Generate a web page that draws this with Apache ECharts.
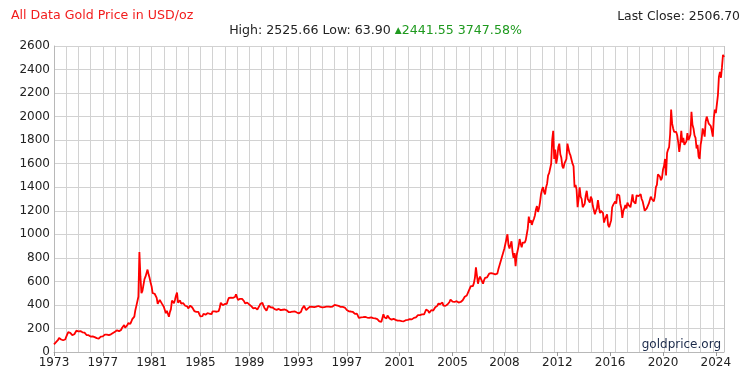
<!DOCTYPE html>
<html><head><meta charset="utf-8">
<script src="https://cdn.jsdelivr.net/npm/echarts@6/dist/echarts.min.js"></script>
<style>html,body{margin:0;padding:0;background:#fff}#c{width:753px;height:386px}</style>
</head><body><div id="c"></div>
<script>
// Gold price (USD/oz), one inner array per calendar year, samples in time order.
const startYear = 1973;
const prices1970s = [
  [65, 74, 84, 90, 102, 120, 122, 106, 103, 100, 94, 106],
  [129, 150, 168, 172, 163, 154, 143, 154, 151, 158, 181, 186],
  [176, 180, 178, 170, 167, 164, 165, 163, 144, 142, 143, 139],
  [131, 131, 133, 128, 126, 125, 118, 110, 114, 117, 131, 134],
  [132, 136, 148, 149, 147, 141, 143, 145, 150, 158, 162, 161],
  [173, 178, 184, 175, 177, 183, 188, 206, 212, 228, 206, 208],
  [227, 245, 242, 239, 257, 279, 295, 301, 355, 392, 392, 470]
];
const prices1980s = [
  [850, 640, 500, 520, 530, 620, 640, 630, 700, 660, 630, 590],
  [557, 500, 500, 495, 480, 460, 409, 410, 443, 437, 413, 410],
  [384, 374, 330, 350, 334, 300, 339, 364, 436, 422, 415, 444],
  [480, 505, 420, 432, 438, 412, 422, 416, 412, 393, 381, 388],
  [370, 386, 394, 381, 378, 378, 348, 348, 341, 340, 341, 320],
  [303, 299, 304, 325, 316, 317, 317, 330, 324, 325, 325, 322],
  [345, 339, 346, 340, 342, 343, 348, 376, 418, 423, 398, 391],
  [408, 401, 409, 439, 460, 450, 462, 453, 460, 466, 467, 490],
  [477, 442, 444, 452, 451, 451, 437, 431, 413, 406, 420, 419],
  [404, 388, 390, 384, 371, 367, 375, 365, 361, 367, 392, 409]
];
const prices1990s = [
  [410, 417, 393, 374, 369, 352, 362, 394, 389, 380, 381, 378],
  [384, 364, 363, 358, 357, 366, 368, 356, 349, 359, 361, 361],
  [354, 354, 345, 338, 337, 340, 353, 343, 345, 344, 335, 335],
  [329, 329, 330, 342, 367, 372, 392, 378, 355, 364, 373, 383],
  [386, 381, 384, 377, 381, 385, 385, 380, 391, 389, 384, 379],
  [379, 377, 382, 391, 385, 387, 386, 383, 383, 383, 386, 387],
  [400, 405, 396, 393, 392, 385, 383, 387, 383, 381, 378, 369],
  [357, 349, 346, 352, 344, 343, 340, 324, 324, 323, 325, 306, 289],
  [284, 295, 297, 296, 308, 299, 292, 293, 284, 289, 296, 294, 291],
  [288, 287, 286, 283, 280, 270, 261, 256, 257, 265, 320, 295, 290]
];
const prices2000s = [
  [285, 310, 295, 284, 280, 275, 286, 282, 276, 273, 270, 266, 272],
  [266, 262, 263, 258, 261, 272, 270, 268, 273, 286, 280, 275, 277],
  [282, 290, 298, 294, 303, 314, 322, 314, 310, 320, 316, 319, 340],
  [360, 368, 350, 332, 330, 355, 350, 352, 362, 380, 378, 392, 410],
  [415, 408, 402, 420, 394, 384, 392, 398, 404, 410, 425, 445, 440],
  [428, 420, 425, 435, 432, 428, 420, 428, 425, 430, 440, 456, 470, 468, 480, 500, 515],
  [540, 560, 555, 560, 585, 630, 720, 650, 580, 620, 640, 625, 600, 580, 610, 630, 625],
  [635, 650, 665, 655, 670, 685, 665, 650, 660, 670, 665, 700, 730, 760, 790, 820, 810],
  [880, 920, 960, 1000, 910, 880, 890, 940, 850, 800, 840, 730, 820],
  [860, 900, 960, 920, 890, 930, 945, 930, 950, 1000, 1050, 1150, 1100]
];
const prices2010s = [
  [1120, 1080, 1110, 1130, 1160, 1210, 1240, 1190, 1220, 1270, 1340, 1380, 1400],
  [1360, 1340, 1400, 1430, 1500, 1520, 1510, 1600, 1800, 1880, 1640, 1720, 1600],
  [1650, 1740, 1770, 1680, 1650, 1580, 1560, 1600, 1590, 1640, 1770, 1730, 1690],
  [1670, 1660, 1600, 1580, 1400, 1420, 1380, 1230, 1300, 1400, 1320, 1300, 1230],
  [1240, 1260, 1330, 1370, 1300, 1290, 1270, 1320, 1300, 1240, 1230, 1170, 1200],
  [1220, 1290, 1230, 1180, 1200, 1210, 1180, 1100, 1130, 1140, 1170, 1080, 1060],
  [1090, 1120, 1230, 1250, 1240, 1280, 1260, 1340, 1350, 1330, 1260, 1220, 1140],
  [1200, 1220, 1250, 1220, 1270, 1250, 1260, 1230, 1280, 1340, 1280, 1280, 1260],
  [1330, 1340, 1325, 1320, 1340, 1300, 1280, 1240, 1200, 1195, 1220, 1220, 1260],
  [1290, 1320, 1300, 1290, 1280, 1320, 1400, 1420, 1510, 1520, 1490, 1460, 1480]
];
const prices2020s = [
  [1550, 1580, 1640, 1500, 1690, 1720, 1740, 1850, 2060, 1940, 1900, 1870, 1860],
  [1870, 1840, 1780, 1700, 1770, 1880, 1780, 1820, 1760, 1750, 1790, 1860, 1800],
  [1820, 1850, 2040, 1930, 1900, 1840, 1820, 1730, 1760, 1660, 1640, 1760, 1810],
  [1900, 1870, 1830, 1960, 2000, 1990, 1940, 1950, 1920, 1880, 1830, 1990, 2060],
  [2030, 2040, 2180, 2340, 2380, 2330, 2420, 2525, 2506]
];
const labelYears = [1973, 1977, 1981, 1985, 1989, 1993, 1997, 2001, 2005, 2008, 2012, 2016, 2020, 2024];
const yTicks = { min: 0, max: 2600, step: 200 };
const gridEverySamples = 12;
const titleText = 'All Data Gold Price in USD/oz';
const statsText = 'High: 2525.66 Low: 63.90 ';
const changeText = '2441.55 3747.58%';
const lastCloseText = 'Last Close: 2506.70';
const sourceText = 'goldprice.org';

const yearly = [].concat(prices1970s, prices1980s, prices1990s, prices2000s, prices2010s, prices2020s);
const categories = [], values = [];
yearly.forEach((arr, i) => {
  const y = startYear + i;
  arr.forEach((v, j) => { categories.push(y + '-' + (j + 1)); values.push(v); });
});
const isLabel = (idx, val) => {
  const p = String(val).split('-');
  return p[1] === '1' && labelYears.indexOf(+p[0]) >= 0;
};
// right frame edge (last sample) drawn as a mark line
const frameRight = [{ xAxis: categories.length - 1 }];

const FONT = '"DejaVu Sans", Verdana, sans-serif';
const GRID_COLOR = '#d2d2d2';
const chart = echarts.init(document.getElementById('c'), null, { renderer: 'canvas' });
chart.setOption({
  animation: false,
  grid: { left: 54, right: 29, top: 46, bottom: 34 },
  xAxis: {
    type: 'category',
    data: categories,
    boundaryGap: false,
    axisLine: { show: true, lineStyle: { color: '#b8b8b8', width: 1 } },
    axisTick: { show: true, interval: isLabel, length: 4, lineStyle: { color: '#999' } },
    axisLabel: { interval: isLabel, formatter: v => v.split('-')[0], color: '#222', fontFamily: FONT, fontSize: 12, margin: 5 },
    splitLine: { show: true, interval: gridEverySamples - 1, lineStyle: { color: GRID_COLOR, width: 1 } }
  },
  yAxis: {
    type: 'value',
    min: yTicks.min, max: yTicks.max, interval: yTicks.step,
    axisLine: { show: true, lineStyle: { color: '#b8b8b8' } },
    axisTick: { show: false },
    axisLabel: { color: '#222', fontFamily: FONT, fontSize: 12, margin: 4, formatter: v => String(v) },
    splitLine: { show: true, lineStyle: { color: GRID_COLOR, width: 1 } }
  },
  series: [{
    type: 'line',
    data: values,
    showSymbol: false,
    symbol: 'none',
    lineStyle: { color: '#ff0000', width: 1.8 },
    z: 5,
    markLine: {
      silent: true,
      symbol: ['none', 'none'],
      label: { show: false },
      lineStyle: { color: '#c4c4c4', width: 1, type: 'solid' },
      emphasis: { disabled: true },
      data: frameRight
    }
  }],
  graphic: [
    { type: 'text', left: 11, top: 9, style: { text: titleText, fill: '#f21d1d', font: '12.6px ' + FONT } },
    { type: 'text', x: 375.5, y: 31, style: {
        text: '{a|' + statsText + '}{t|▲}{g|' + changeText + '}',
        align: 'center', verticalAlign: 'middle',
        rich: {
          a: { fill: '#222', font: '12.6px ' + FONT },
          t: { fill: '#1f9a1f', font: '9px ' + FONT },
          g: { fill: '#1f9a1f', font: '12.6px ' + FONT }
        }
    } },
    { type: 'text', x: 740, y: 17, style: { text: lastCloseText, align: 'right', verticalAlign: 'middle', fill: '#222', font: '12.4px ' + FONT } },
    { type: 'text', x: 721, y: 345, z: 10, style: { text: sourceText, align: 'right', verticalAlign: 'middle', fill: '#1b2a4a', font: '12px ' + FONT } }
  ]
});
</script>
</body></html>
